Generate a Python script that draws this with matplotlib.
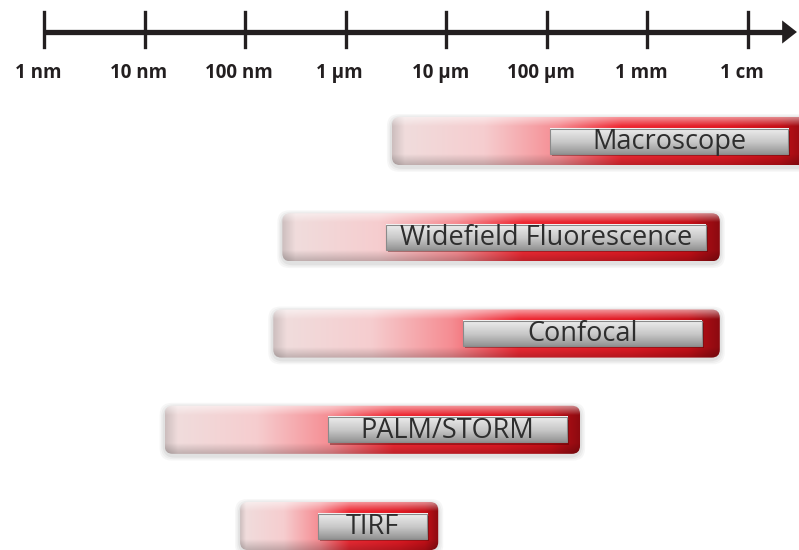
import numpy as np
import matplotlib
matplotlib.use("Agg")
import matplotlib.pyplot as plt
from matplotlib.patches import FancyBboxPatch, Rectangle

# scale: log10 of size in metres
tick_values = [-9, -8, -7, -6, -5, -4, -3, -2]
tick_labels = ["1 nm", "10 nm", "100 nm", "1 \u00b5m", "10 \u00b5m", "100 \u00b5m", "1 mm", "1 cm"]

# techniques (top to bottom), range covered in log10(m)
techniques = ["Macroscope", "Widefield Fluorescence", "Confocal", "PALM/STORM", "TIRF"]
range_lo = [-5.54, -6.63, -6.72, -7.80, -7.05]
range_hi = [-1.40, -2.28, -2.28, -3.67, -5.08]
# grey name plates, same units
plate_lo = [-3.97, -5.60, -4.83, -6.18, -6.28]
plate_hi = [-1.60, -2.42, -2.46, -3.80, -5.19]

AX_COL = "#231f20"
TXT_COL = "#2e2e2e"
BAR_H = 0.50
PLATE_H = 0.26


def red_gradient(n=400, m=60):
    ts = [0.0, 0.03, 0.22, 0.40, 0.55, 0.8, 0.93, 1.0]
    cs = np.array([(205, 190, 190), (240, 220, 220), (246, 205, 207), (245, 140, 146),
                   (238, 42, 52), (224, 26, 36), (198, 16, 24), (140, 10, 16)]) / 255
    t = np.linspace(0, 1, n)
    rgb = np.stack([np.interp(t, ts, cs[:, k]) for k in range(3)], -1)
    img = np.repeat(rgb[None, :, :], m, axis=0)
    v = np.linspace(0, 1, m)[:, None]
    hi = np.clip((0.2 - v) / 0.2, 0, 1) * 0.55
    img = img + (1 - img) * hi[..., None]
    sh = np.clip((v - 0.78) / 0.22, 0, 1) * 0.2
    img = img * (1 - sh[..., None])
    return np.clip(img, 0, 1)


def grey_gradient(m=40):
    v = np.linspace(0, 1, m)
    g = np.interp(v, [0, 0.12, 0.55, 1], [0.97, 0.90, 0.78, 0.58])
    return np.repeat(np.stack([g, g, g], -1)[:, None, :], 10, axis=1)


fig = plt.figure(figsize=(7.99, 5.5), dpi=100)
ax = fig.add_axes([0, 0, 1, 1])
ax.axis("off")

xt = ax.get_xaxis_transform()
y_axis = 1 - 32 / 550
ax.plot([-9, -1.62], [y_axis, y_axis], color=AX_COL, lw=3.8, solid_capstyle="butt", transform=xt)
ax.fill([-1.66, -1.513, -1.66], [y_axis + 0.021, y_axis, y_axis - 0.021], color=AX_COL, transform=xt, lw=0)
for v, lab in zip(tick_values, tick_labels):
    ax.plot([v, v], [1 - 12 / 550, 1 - 47 / 550], color=AX_COL, lw=2.4, transform=xt)
    ax.text(v - 0.06, 1 - 73 / 550, lab, transform=xt, ha="center", va="center",
            fontsize=13.5, fontweight="bold", family=["Open Sans", "DejaVu Sans"], color=AX_COL)

red = red_gradient()
grey = grey_gradient()
for i, name in enumerate(techniques):
    x0, x1 = range_lo[i], range_hi[i]
    y0, y1 = i - BAR_H / 2, i + BAR_H / 2
    # soft shadow
    for k, a in enumerate([0.05, 0.06, 0.08]):
        pad = 0.05 - k * 0.015
        sp = FancyBboxPatch((x0 - pad, y0 - pad + 0.02), x1 - x0 + 2 * pad, BAR_H + 2 * pad,
                            boxstyle="round,pad=0,rounding_size=0.12", mutation_aspect=1.045,
                            fc="#606060", ec="none", alpha=a, zorder=1)
        ax.add_patch(sp)
    clip = FancyBboxPatch((x0, y0), x1 - x0, BAR_H, boxstyle="round,pad=0,rounding_size=0.08",
                          mutation_aspect=1.045, fc="none", ec="none", zorder=2)
    ax.add_patch(clip)
    im = ax.imshow(red, extent=(x0, x1, y1, y0), origin="upper", aspect="auto",
                   interpolation="bilinear", zorder=2)
    im.set_clip_path(clip)

    p0, p1 = plate_lo[i], plate_hi[i]
    ax.add_patch(Rectangle((p0 + 0.02, i - PLATE_H / 2 + 0.025), p1 - p0, PLATE_H,
                           fc="#4a0000", ec="none", alpha=0.4, zorder=3))
    ax.imshow(grey, extent=(p0, p1, i + PLATE_H / 2, i - PLATE_H / 2), origin="upper",
              aspect="auto", interpolation="bilinear", zorder=4)
    ax.add_patch(Rectangle((p0, i - PLATE_H / 2), p1 - p0, PLATE_H, fc="none", ec="#8a8a8a",
                           lw=0.8, zorder=5))
    ax.text((p0 + p1) / 2, i + 0.01, name, ha="center", va="center", fontsize=19.5,
            family=["Open Sans", "DejaVu Sans"], color=TXT_COL, zorder=6)

ax.set_xlim(-9.4375, -1.4925)
ax.set_ylim(4.249, -1.465)
fig.savefig("out.png", dpi=100)
